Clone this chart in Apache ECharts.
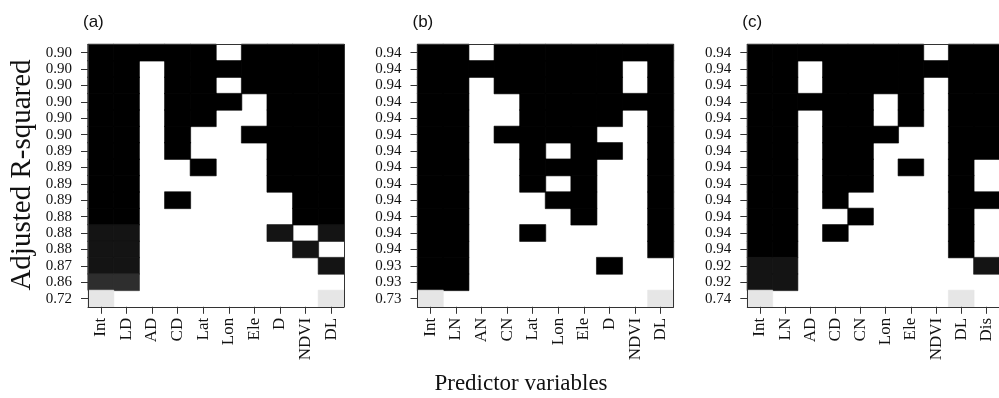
<!DOCTYPE html>
<html><head><meta charset="utf-8">
<script src="https://cdn.jsdelivr.net/npm/echarts@6/dist/echarts.min.js"></script>
<style>html,body{margin:0;padding:0;background:#fff}#c{width:999px;height:398px}</style>
</head><body><div id="c"></div>
<script>
// Predictor variables (columns) for each panel
const varsA = ['Int','LD','AD','CD','Lat','Lon','Ele','D','NDVI','DL'];
const varsB = ['Int','LN','AN','CN','Lat','Lon','Ele','D','NDVI','DL'];
const varsC = ['Int','LN','AD','CD','CN','Lon','Ele','NDVI','DL','Dis'];

// Adjusted R-squared tick labels (rows, top to bottom)
const r2A = ['0.90','0.90','0.90','0.90','0.90','0.90','0.89','0.89','0.89','0.89','0.88','0.88','0.88','0.87','0.86','0.72'];
const r2B = ['0.94','0.94','0.94','0.94','0.94','0.94','0.94','0.94','0.94','0.94','0.94','0.94','0.94','0.93','0.93','0.73'];
const r2C = ['0.94','0.94','0.94','0.94','0.94','0.94','0.94','0.94','0.94','0.94','0.94','0.94','0.94','0.92','0.92','0.74'];

// Model inclusion matrices: 0 = excluded, 1..4 = included, shade level by R2 rank
const modelsA = [
  [1,1,1,1,1,0,1,1,1,1],
  [1,1,0,1,1,1,1,1,1,1],
  [1,1,0,1,1,0,1,1,1,1],
  [1,1,0,1,1,1,0,1,1,1],
  [1,1,0,1,1,0,0,1,1,1],
  [1,1,0,1,0,0,1,1,1,1],
  [1,1,0,1,0,0,0,1,1,1],
  [1,1,0,0,1,0,0,1,1,1],
  [1,1,0,0,0,0,0,1,1,1],
  [1,1,0,1,0,0,0,0,1,1],
  [1,1,0,0,0,0,0,0,1,1],
  [2,2,0,0,0,0,0,2,0,2],
  [2,2,0,0,0,0,0,0,2,0],
  [2,2,0,0,0,0,0,0,0,2],
  [3,3,0,0,0,0,0,0,0,0],
  [4,0,0,0,0,0,0,0,0,4]
];
const modelsB = [
  [1,1,0,1,1,1,1,1,1,1],
  [1,1,1,1,1,1,1,1,0,1],
  [1,1,0,1,1,1,1,1,0,1],
  [1,1,0,0,1,1,1,1,1,1],
  [1,1,0,0,1,1,1,1,0,1],
  [1,1,0,1,1,1,1,0,0,1],
  [1,1,0,0,1,0,1,1,0,1],
  [1,1,0,0,1,1,1,0,0,1],
  [1,1,0,0,1,0,1,0,0,1],
  [1,1,0,0,0,1,1,0,0,1],
  [1,1,0,0,0,0,1,0,0,1],
  [1,1,0,0,1,0,0,0,0,1],
  [1,1,0,0,0,0,0,0,0,1],
  [1,1,0,0,0,0,0,1,0,0],
  [1,1,0,0,0,0,0,0,0,0],
  [4,0,0,0,0,0,0,0,0,4]
];
const modelsC = [
  [1,1,1,1,1,1,1,0,1,1],
  [1,1,0,1,1,1,1,1,1,1],
  [1,1,0,1,1,1,1,0,1,1],
  [1,1,1,1,1,0,1,0,1,1],
  [1,1,0,1,1,0,1,0,1,1],
  [1,1,0,1,1,1,0,0,1,1],
  [1,1,0,1,1,0,0,0,1,1],
  [1,1,0,1,1,0,1,0,1,0],
  [1,1,0,1,1,0,0,0,1,0],
  [1,1,0,1,0,0,0,0,1,1],
  [1,1,0,0,1,0,0,0,1,0],
  [1,1,0,1,0,0,0,0,1,0],
  [1,1,0,0,0,0,0,0,1,0],
  [2,2,0,0,0,0,0,0,0,2],
  [2,2,0,0,0,0,0,0,0,0],
  [4,0,0,0,0,0,0,0,4,0]
];

const panels = [
  {vars: varsA, r2: r2A, m: modelsA, tag: '(a)'},
  {vars: varsB, r2: r2B, m: modelsB, tag: '(b)'},
  {vars: varsC, r2: r2C, m: modelsC, tag: '(c)'}
];

const SHADES = ['#ffffff', '#000000', '#141414', '#2e2e2e', '#e6e6e6'];
const gridLefts = [88, 417.5, 747.3];
const gridTop = 44.4, gridH = 262.4, gridW = 256;
const SERIF = 'Liberation Serif';
const AXC = '#333';

const grids = [], xAxes = [], yAxes = [], series = [], graphics = [];
panels.forEach((p, i) => {
  grids.push({left: gridLefts[i], top: gridTop, width: gridW, height: gridH, containLabel: false});
  const rowIdx = p.r2.map((_, k) => String(k));
  xAxes.push({
    type: 'category', gridIndex: i, data: p.vars, position: 'bottom', z: 10,
    axisLine: {show: true, lineStyle: {color: AXC, width: 1}},
    axisTick: {show: true, alignWithLabel: true, interval: 0, length: 7, lineStyle: {color: AXC}},
    axisLabel: {interval: 0, rotate: 90, margin: 11, fontFamily: SERIF, fontSize: 17, color: '#111'},
    splitLine: {show: false}
  });
  xAxes.push({
    type: 'category', gridIndex: i, data: p.vars, position: 'top', z: 10,
    axisLine: {show: true, lineStyle: {color: AXC, width: 1}},
    axisTick: {show: false}, axisLabel: {show: false}, splitLine: {show: false}
  });
  yAxes.push({
    type: 'category', gridIndex: i, data: rowIdx, inverse: true, position: 'left', z: 10,
    axisLine: {show: true, lineStyle: {color: AXC, width: 1}},
    axisTick: {show: true, alignWithLabel: true, interval: 0, length: 7, lineStyle: {color: AXC}},
    axisLabel: {interval: 0, margin: 16, fontFamily: SERIF, fontSize: 15, color: '#111',
      formatter: (v, idx) => p.r2[idx]},
    splitLine: {show: false}
  });
  yAxes.push({
    type: 'category', gridIndex: i, data: rowIdx, inverse: true, position: 'right', z: 10,
    axisLine: {show: true, lineStyle: {color: AXC, width: 1}},
    axisTick: {show: false}, axisLabel: {show: false}, splitLine: {show: false}
  });
  const data = [];
  p.m.forEach((row, r) => row.forEach((code, c) => {
    if (code > 0) data.push({value: [c, r, code],
      itemStyle: {color: SHADES[code], borderColor: SHADES[code], borderWidth: 0.6}});
  }));
  series.push({
    type: 'heatmap', xAxisIndex: 2 * i, yAxisIndex: 2 * i, data: data,
    emphasis: {disabled: true}, progressive: 0, animation: false
  });
  graphics.push({
    type: 'text', x: gridLefts[i] - 5, y: 22,
    style: {text: p.tag, font: '17px "Liberation Sans"', fill: '#111', align: 'left', verticalAlign: 'middle'}
  });
});

graphics.push({
  type: 'text', x: 521, y: 384,
  style: {text: 'Predictor variables', font: '23px "Liberation Serif"', fill: '#111', align: 'center', verticalAlign: 'middle'}
});
graphics.push({
  type: 'text', x: 22, y: 175, rotation: Math.PI / 2,
  style: {text: 'Adjusted R-squared', font: '29px "Liberation Serif"', fill: '#111', align: 'center', verticalAlign: 'middle'}
});

const chart = echarts.init(document.getElementById('c'), null, {renderer: 'canvas'});
chart.setOption({
  animation: false,
  backgroundColor: '#fff',
  grid: grids, xAxis: xAxes, yAxis: yAxes, series: series,
  graphic: graphics
});
</script></body></html>
